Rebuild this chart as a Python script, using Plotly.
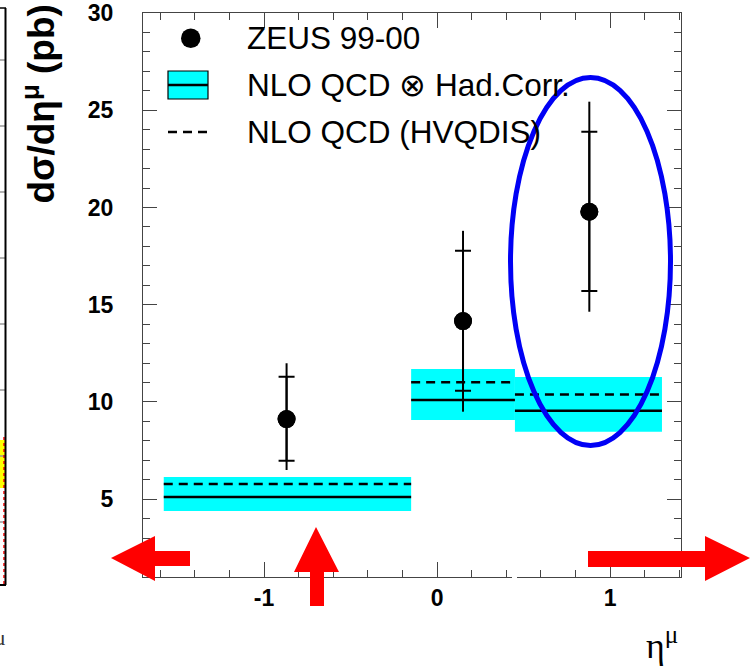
import plotly.graph_objects as go

# ---- data: ZEUS 99-00 muon pseudorapidity cross section ----
eta_edges = [-1.58, -0.15, 0.45, 1.30]
eta_points = [-0.87, 0.15, 0.88]
zeus_xsec = [9.12, 14.16, 19.78]
stat_up = [2.18, 3.62, 4.11]
stat_dn = [2.14, 3.58, 4.08]
tot_up = [2.87, 4.64, 5.66]
tot_dn = [2.62, 4.66, 5.14]

# NLO QCD x hadronisation correction (central value and uncertainty band)
nlo_had = [5.11, 10.10, 9.55]
nlo_had_hi = [6.14, 11.69, 11.28]
nlo_had_lo = [4.39, 9.07, 8.47]
# NLO QCD (HVQDIS) parton level
nlo_hvqdis = [5.78, 11.01, 10.39]

x_ticks = [-1, 0, 1]
y_ticks = [5, 10, 15, 20, 25, 30]
legend_labels = ["ZEUS 99-00", "NLO QCD \u2297 Had.Corr.", "NLO QCD (HVQDIS)"]

W, H = 753, 671
L, R, T, B = 143, 72, 13, 94
PW, PH = W - L - R, H - T - B


def px(x):
    return (x - L) / PW


def py(y):
    return (H - B - y) / PH


def path(points):
    return "M " + " L ".join(f"{px(a):.5f},{py(b):.5f}" for a, b in points) + " Z"


fig = go.Figure()

# uncertainty bands
for i in range(len(nlo_had)):
    x0, x1 = eta_edges[i], eta_edges[i + 1]
    fig.add_trace(go.Scatter(
        x=[x0, x1, x1, x0, x0],
        y=[nlo_had_lo[i], nlo_had_lo[i], nlo_had_hi[i], nlo_had_hi[i], nlo_had_lo[i]],
        fill="toself", fillcolor="#00ffff", mode="none",
        hoverinfo="skip", showlegend=False))

# step lines for the two predictions
def steps(vals):
    xs, ys = [], []
    for i, v in enumerate(vals):
        xs += [eta_edges[i], eta_edges[i + 1], None]
        ys += [v, v, None]
    return xs, ys

sx, sy = steps(nlo_had)
fig.add_trace(go.Scatter(x=sx, y=sy, mode="lines",
                         line=dict(color="black", width=2.5), showlegend=False))
dx, dy = steps(nlo_hvqdis)
fig.add_trace(go.Scatter(x=dx, y=dy, mode="lines",
                         line=dict(color="black", width=2.5, dash="9px,6px"),
                         showlegend=False))

# data: total uncertainty (no caps) and statistical uncertainty (with caps)
fig.add_trace(go.Scatter(
    x=eta_points, y=zeus_xsec, mode="markers",
    marker=dict(color="black", size=18),
    error_y=dict(type="data", symmetric=False, array=tot_up, arrayminus=tot_dn,
                 width=0, thickness=2, color="black"),
    showlegend=False))
fig.add_trace(go.Scatter(
    x=eta_points, y=zeus_xsec, mode="markers",
    marker=dict(color="black", size=18),
    error_y=dict(type="data", symmetric=False, array=stat_up, arrayminus=stat_dn,
                 width=8, thickness=2, color="black"),
    showlegend=False))

shapes = []
annotations = []

# hand-drawn legend
shapes.append(dict(type="circle", xref="paper", yref="paper",
                   x0=px(181), x1=px(200.5), y0=py(28.5), y1=py(48),
                   fillcolor="black", line=dict(width=0)))
shapes.append(dict(type="rect", xref="paper", yref="paper",
                   x0=px(168), x1=px(208), y0=py(71), y1=py(99),
                   fillcolor="#00ffff", line=dict(color="black", width=1.2)))
shapes.append(dict(type="line", xref="paper", yref="paper",
                   x0=px(168), x1=px(208), y0=py(85), y1=py(85),
                   line=dict(color="black", width=2.5)))
shapes.append(dict(type="line", xref="paper", yref="paper",
                   x0=px(168), x1=px(208), y0=py(132), y1=py(132),
                   line=dict(color="black", width=2.5, dash="9px,6px")))
for lab, yy in zip(legend_labels, [38, 85, 132]):
    annotations.append(dict(text=lab, xref="paper", yref="paper",
                            x=px(245), y=py(yy), xanchor="left", yanchor="middle",
                            showarrow=False,
                            font=dict(family="Liberation Sans", size=31.5, color="black")))

# axis titles
annotations.append(dict(text="d\u03c3/d\u03b7<sup>\u03bc</sup> (pb)", xref="paper", yref="paper",
                        x=px(39), y=py(3), xanchor="center", yanchor="top",
                        textangle=-90, showarrow=False,
                        font=dict(family="Liberation Sans", size=37, color="black",
                                  weight="bold")))
annotations.append(dict(text="\u03b7<sup>\u03bc</sup>", xref="paper", yref="paper",
                        x=px(662), y=py(643), xanchor="center", yanchor="middle",
                        showarrow=False,
                        font=dict(family="Liberation Serif", size=36, color="black")))

# edge of the neighbouring panel
shapes.append(dict(type="rect", xref="paper", yref="paper",
                   x0=px(0), x1=px(5), y0=py(440), y1=py(488),
                   fillcolor="#ffff00", line=dict(width=0), layer="below"))
for yy in [60, 126, 192, 258, 324, 390, 456, 522]:
    shapes.append(dict(type="line", xref="paper", yref="paper",
                       x0=px(0), x1=px(5), y0=py(yy), y1=py(yy),
                       line=dict(color="#999999", width=1.5)))
shapes.append(dict(type="line", xref="paper", yref="paper",
                   x0=px(4), x1=px(4), y0=py(437), y1=py(585),
                   line=dict(color="#ff0000", width=1.5, dash="dot")))
shapes.append(dict(type="line", xref="paper", yref="paper",
                   x0=px(5.5), x1=px(5.5), y0=py(8), y1=py(585),
                   line=dict(color="black", width=2)))
shapes.append(dict(type="line", xref="paper", yref="paper",
                   x0=px(0), x1=px(6), y0=py(8), y1=py(8),
                   line=dict(color="black", width=1.5)))
shapes.append(dict(type="line", xref="paper", yref="paper",
                   x0=px(0), x1=px(6), y0=py(585), y1=py(585),
                   line=dict(color="black", width=2)))
annotations.append(dict(text="\u03bc", xref="paper", yref="paper",
                        x=px(0), y=py(637), xanchor="center", yanchor="middle",
                        showarrow=False,
                        font=dict(family="Liberation Serif", size=22, color="#333333")))

# small break in the lower frame line
shapes.append(dict(type="rect", xref="paper", yref="paper",
                   x0=px(512), x1=px(517), y0=py(573), y1=py(581),
                   fillcolor="white", line=dict(width=0), layer="above"))

# highlight ellipse around the forward bin
shapes.append(dict(type="circle", xref="paper", yref="paper",
                   x0=px(510.5), x1=px(670.5), y0=py(77.5), y1=py(445.5),
                   line=dict(color="#0000f5", width=5), layer="above"))

# red arrows
red = "#ff0000"
shapes.append(dict(type="path", xref="paper", yref="paper", layer="above",
                   path=path([(111, 558), (155, 536), (155, 551), (190, 551),
                              (190, 566), (155, 566), (155, 581)]),
                   fillcolor=red, line=dict(width=0)))
shapes.append(dict(type="path", xref="paper", yref="paper", layer="above",
                   path=path([(316, 527), (339, 572), (324, 572), (324, 606),
                              (310, 606), (310, 572), (294, 572)]),
                   fillcolor=red, line=dict(width=0)))
shapes.append(dict(type="path", xref="paper", yref="paper", layer="above",
                   path=path([(750, 558), (705, 536), (705, 551), (588, 551),
                              (588, 567), (705, 567), (705, 581)]),
                   fillcolor=red, line=dict(width=0)))

axis_common = dict(showline=True, linecolor="#444444", linewidth=1.2, mirror="ticks",
                   ticks="inside", tickcolor="#444444", tickwidth=1.2,
                   showgrid=False, zeroline=False, automargin=False,
                   tickfont=dict(family="Liberation Sans", size=23, color="black",
                                 weight="bold"))

fig.update_layout(
    template="none",
    width=W, height=H,
    margin=dict(l=L, r=R, t=T, b=B, pad=0, autoexpand=False),
    paper_bgcolor="white", plot_bgcolor="white",
    showlegend=False,
    shapes=shapes, annotations=annotations,
    xaxis=dict(range=[-1.70, 1.41], tickvals=x_ticks, ticktext=[str(v) for v in x_ticks],
               ticklen=15, ticklabelstandoff=0,
               minor=dict(dtick=0.2, tick0=0, ticks="inside", ticklen=7,
                          tickcolor="#444444", tickwidth=1.2),
               **axis_common),
    yaxis=dict(range=[1, 30], tickvals=y_ticks, ticktext=[str(v) for v in y_ticks],
               ticklen=14, ticklabelstandoff=24,
               minor=dict(dtick=1, tick0=0, ticks="inside", ticklen=7,
                          tickcolor="#444444", tickwidth=1.2),
               **axis_common),
)

fig.write_html("out.html")
